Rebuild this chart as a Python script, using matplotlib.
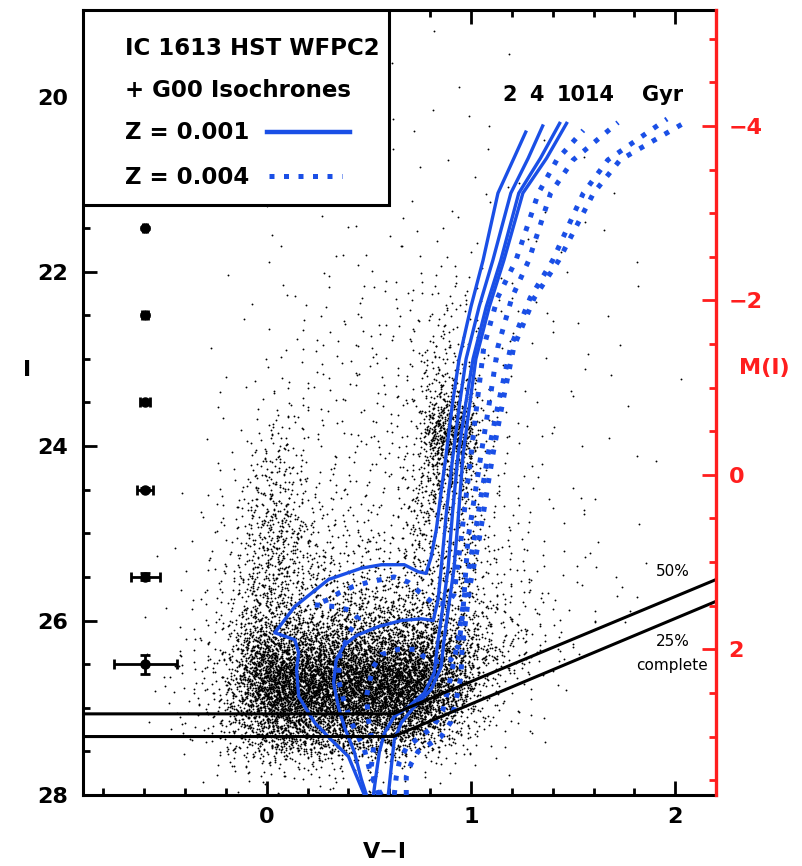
"""CMD of IC 1613 (HST WFPC2) with G00 isochrones"""

import numpy as np
import matplotlib
matplotlib.use('Agg')
import matplotlib.pyplot as plt
from matplotlib.patches import Rectangle
from matplotlib.ticker import MultipleLocator

plt.rcParams['font.family'] = ['DejaVu Sans']
plt.rcParams['font.weight'] = 'bold'
plt.rcParams['axes.labelweight'] = 'bold'

# ---- data ----
dist_mod = 24.33

# star density map: cells of 0.1 mag in V-I (from -0.9) x 0.25 mag in I (from 19.0), level 0-9
# column groups: -0.9..-0.4 | -0.3..0.0 | 0.1 | 0.2..0.6 | 0.7..0.9 | 1.0..1.3 | 1.4..1.5 | 1.6..2.1
grid_vi0, grid_dvi = -0.9, 0.1
grid_i0, grid_di = 19.0, 0.25
density_rows = [
    "000000|0000|0|00000|000|0000|00|000000",  # 19.00
    "000000|0000|0|00000|010|0000|00|000000",
    "000000|0000|0|00001|000|0100|00|000000",
    "000000|0000|0|00000|001|0000|00|000000",
    "000000|0000|0|00001|010|0000|00|000000",  # 20.00
    "000000|0000|0|00010|101|0100|00|000000",
    "000000|0000|0|00101|010|1001|00|000000",
    "000000|0000|0|01010|101|0010|01|000000",
    "000000|0000|1|01010|101|1010|00|100000",  # 21.00
    "000000|0001|0|10101|011|0101|01|000000",
    "000000|0010|1|01111|111|1101|00|100000",
    "000000|0001|0|11111|111|1110|10|001000",
    "000000|0101|1|11121|232|1110|10|000000",  # 22.00
    "000000|0011|1|11212|233|2111|01|001000",
    "000000|0101|1|12222|243|2111|10|100000",
    "000000|1011|1|22222|344|2111|01|010000",
    "000000|1012|1|22222|354|2111|01|000100",  # 23.00
    "000000|0112|2|22222|456|3111|10|100000",
    "000000|1123|3|22222|477|3211|01|010000",
    "000000|1124|3|22232|488|3211|10|100000",
    "000000|1235|3|22233|477|3211|01|010000",  # 24.00
    "000000|1245|4|33223|566|3221|11|001000",
    "000001|2255|4|33323|565|3221|11|100000",
    "000001|2356|5|43333|555|3221|11|010000",
    "000011|2356|5|44444|555|4321|11|101000",  # 25.00
    "000011|2456|5|54444|555|4332|11|110000",
    "000012|2466|5|55555|555|4332|21|111000",
    "000012|3466|6|56666|665|5432|21|110000",
    "000112|3577|7|77777|776|5443|21|110000",  # 26.00
    "000123|4588|8|88888|887|6543|21|000000",
    "000123|4689|9|99999|987|5432|10|000000",
    "000123|4689|9|99999|987|4321|10|000000",
    "000123|4678|8|88888|875|4321|00|000000",  # 27.00
    "000012|3567|7|77777|654|3211|00|000000",
    "000001|2344|4|44443|322|1100|00|000000",
    "000000|1122|2|22221|110|0000|00|000000",
]
level_counts = [0, 1, 3, 6, 12, 24, 45, 80, 150, 260]

# isochrones (V-I, I), Z = 0.001
z001_2gyr = [(0.478, 28.0), (0.40, 27.56), (0.317, 27.37), (0.234, 27.17), (0.156, 26.87),
             (0.146, 26.56), (0.156, 26.37), (0.137, 26.22), (0.039, 26.14), (0.137, 25.84),
             (0.302, 25.53), (0.463, 25.40), (0.561, 25.36), (0.673, 25.36), (0.741, 25.44),
             (0.78, 25.46), (0.805, 25.27), (0.83, 24.96), (0.855, 24.5), (0.878, 24.1),
             (0.91, 23.5), (0.942, 23.0), (1.0, 22.4), (1.059, 21.87), (1.132, 21.1),
             (1.21, 20.7), (1.268, 20.40)]
z001_4gyr = [(0.488, 28.0), (0.463, 27.82), (0.429, 27.51), (0.38, 27.22), (0.351, 26.99),
             (0.327, 26.71), (0.34, 26.45), (0.38, 26.28), (0.44, 26.17), (0.546, 26.07),
             (0.659, 26.0), (0.756, 25.98), (0.815, 26.0), (0.839, 25.76), (0.854, 25.4),
             (0.88, 24.75), (0.912, 24.1), (0.945, 23.5), (0.976, 23.0), (1.04, 22.4),
             (1.107, 21.87), (1.195, 21.1), (1.28, 20.7), (1.351, 20.33)]
z001_10gyr = [(0.522, 28.0), (0.537, 27.74), (0.551, 27.51), (0.576, 27.29), (0.624, 27.10),
              (0.693, 26.99), (0.771, 26.83), (0.82, 26.6), (0.839, 26.22), (0.865, 25.8),
              (0.888, 25.4), (0.91, 24.75), (0.937, 24.1), (0.975, 23.5), (1.01, 23.0),
              (1.075, 22.4), (1.146, 21.87), (1.234, 21.1), (1.34, 20.7), (1.434, 20.30)]
z001_14gyr = [(0.595, 28.0), (0.61, 27.67), (0.624, 27.37), (0.659, 27.17), (0.722, 26.99),
              (0.805, 26.79), (0.854, 26.53), (0.868, 26.22), (0.893, 25.8), (0.917, 25.4),
              (0.94, 24.75), (0.961, 24.1), (0.995, 23.5), (1.024, 23.0), (1.09, 22.4),
              (1.161, 21.87), (1.254, 21.1), (1.37, 20.7), (1.468, 20.30)]

# isochrones (V-I, I), Z = 0.004
z004_2gyr = [(0.561, 28.0), (0.512, 27.79), (0.478, 27.48), (0.415, 27.17), (0.376, 26.91),
             (0.351, 26.68), (0.356, 26.41), (0.38, 26.28), (0.405, 26.13), (0.449, 25.98),
             (0.405, 25.88), (0.332, 25.84), (0.234, 25.82), (0.302, 25.76), (0.356, 25.68),
             (0.424, 25.61), (0.498, 25.56), (0.624, 25.50), (0.693, 25.56), (0.746, 25.67),
             (0.815, 25.80), (0.883, 25.81), (0.917, 25.70), (0.932, 25.42), (0.951, 25.07),
             (1.0, 24.1), (1.03, 23.5), (1.063, 22.86), (1.13, 22.3), (1.22, 21.87),
             (1.33, 21.1), (1.42, 20.72), (1.55, 20.38)]
z004_4gyr = [(0.546, 28.0), (0.522, 27.79), (0.512, 27.67), (0.522, 27.48), (0.512, 27.33),
             (0.498, 27.14), (0.488, 26.87), (0.502, 26.71), (0.522, 26.53), (0.561, 26.39),
             (0.644, 26.33), (0.741, 26.33), (0.766, 26.41), (0.839, 26.47), (0.902, 26.45),
             (0.941, 26.28), (0.961, 25.88), (0.985, 25.07), (1.049, 24.1), (1.09, 23.5),
             (1.132, 22.86), (1.2, 22.3), (1.283, 21.87), (1.39, 21.1), (1.50, 20.72),
             (1.72, 20.29)]
z004_10gyr = [(0.624, 28.0), (0.634, 27.79), (0.649, 27.62), (0.683, 27.46), (0.746, 27.34),
              (0.815, 27.22), (0.863, 27.02), (0.888, 26.79), (0.912, 26.51), (0.937, 26.22),
              (0.975, 25.6), (1.015, 25.07), (1.083, 24.1), (1.135, 23.5), (1.195, 22.86),
              (1.29, 22.3), (1.40, 21.87), (1.55, 21.1), (1.67, 20.72), (1.96, 20.25)]
z004_14gyr = [(0.683, 28.0), (0.683, 27.79), (0.707, 27.64), (0.741, 27.50), (0.795, 27.42),
              (0.854, 27.33), (0.902, 27.16), (0.927, 26.91), (0.951, 26.64), (0.956, 26.33),
              (0.995, 25.6), (1.04, 25.07), (1.107, 24.1), (1.155, 23.5), (1.21, 22.86),
              (1.31, 22.3), (1.43, 21.87), (1.60, 21.1), (1.73, 20.72), (2.07, 20.26)]

# completeness limits
compl_vi = [-0.9, 0.62, 2.2]
compl_50 = [27.07, 27.07, 25.53]
compl_25 = [27.33, 27.33, 25.78]

# photometric errors
err_vi = [-0.595, -0.595, -0.595, -0.595, -0.595, -0.595]
err_i = [21.5, 22.5, 23.5, 24.5, 25.5, 26.5]
err_x = [0.01, 0.015, 0.025, 0.04, 0.07, 0.155]
err_y = [0.01, 0.01, 0.015, 0.02, 0.04, 0.11]

age_labels = ['2', '4', '1014', 'Gyr']
age_label_vi = [1.19, 1.32, 1.56, 1.94]
age_label_i = 19.98

BLUE = '#1a4fe6'
RED = '#ff1e1e'


def halton(n, base):
    """Последовательность Холтона для раскладки звезд внутри ячейки"""
    seq = np.zeros(n)
    idx = np.arange(1, n + 1)
    f = 1.0
    while np.any(idx > 0):
        f /= base
        seq += f * (idx % base)
        idx //= base
    return seq


def stars_from_density():
    """Раскладывает звезды по ячейкам карты плотности"""
    cells = []
    for r, row in enumerate(density_rows):
        for c, ch in enumerate(row.replace('|', '')):
            n = level_counts[int(ch)]
            if n:
                cells.append((r, c, n))
    total = sum(n for _, _, n in cells)
    h2, h3, h5, h7 = (halton(total, b) for b in (2, 3, 5, 7))
    vi = np.empty(total)
    mag = np.empty(total)
    k = 0
    for r, c, n in cells:
        s = slice(k, k + n)
        vi[s] = grid_vi0 + grid_dvi * (c + h2[s] + h5[s] - 0.5)
        mag[s] = grid_i0 + grid_di * (r + h3[s] + h7[s] - 0.5)
        k += n
    return vi, mag


fig = plt.figure(figsize=(8.03, 8.66), dpi=100)
ax = fig.add_axes([0.1034, 0.0820, 0.7883, 0.9065])

vi, mag = stars_from_density()
ax.scatter(vi, mag, s=1.8, c='black', marker='o', linewidths=0, zorder=1)

for iso in (z001_2gyr, z001_4gyr, z001_10gyr, z001_14gyr):
    x, y = zip(*iso)
    ax.plot(x, y, color=BLUE, lw=2.4, solid_joinstyle='round', zorder=3)
for iso in (z004_2gyr, z004_4gyr, z004_10gyr, z004_14gyr):
    x, y = zip(*iso)
    ax.plot(x, y, color=BLUE, lw=3.6, ls=(0, (1.0, 1.9)), zorder=3)

ax.plot(compl_vi, compl_50, color='black', lw=2.2, zorder=4)
ax.plot(compl_vi, compl_25, color='black', lw=2.2, zorder=4)
ax.text(1.99, 25.44, '50%', fontsize=11, fontweight='normal', ha='center', va='center')
ax.text(1.99, 26.24, '25%', fontsize=11, fontweight='normal', ha='center', va='center')
ax.text(1.985, 26.51, 'complete', fontsize=11, fontweight='normal', ha='center', va='center')

ax.errorbar(err_vi, err_i, xerr=err_x, yerr=err_y, fmt='o', color='black', ms=6.5,
            elinewidth=2, capsize=3.5, capthick=2, zorder=5)

for lab, xl in zip(age_labels, age_label_vi):
    ax.text(xl, age_label_i, lab, fontsize=15, ha='center', va='center', zorder=6)

# legend box
ax.add_patch(Rectangle((-0.9, 19.0), 1.5, 2.24, facecolor='white', edgecolor='black',
                       lw=2.2, zorder=7))
leg_x = -0.693
ax.text(leg_x, 19.44, 'IC 1613 HST WFPC2', fontsize=16.5, va='center', zorder=8)
ax.text(leg_x, 19.92, '+ G00 Isochrones', fontsize=16.5, va='center', zorder=8)
ax.text(leg_x, 20.41, 'Z = 0.001', fontsize=16.5, va='center', zorder=8)
ax.text(leg_x, 20.92, 'Z = 0.004', fontsize=16.5, va='center', zorder=8)
ax.plot([0.0, 0.405], [20.40, 20.40], color=BLUE, lw=3.2, zorder=8)
ax.plot([0.01, 0.37], [20.90, 20.90], color=BLUE, lw=3.6, ls=(0, (1.0, 1.9)), zorder=8)

ax.set_xlim(-0.9, 2.2)
ax.set_ylim(28, 19)
ax.xaxis.set_major_locator(MultipleLocator(1))
ax.xaxis.set_minor_locator(MultipleLocator(0.2))
ax.yaxis.set_major_locator(MultipleLocator(2))
ax.yaxis.set_minor_locator(MultipleLocator(0.5))
ax.tick_params(axis='x', which='both', direction='in', top=True, bottom=True,
               width=2, labelsize=16, pad=9)
ax.tick_params(axis='y', which='both', direction='in', left=True, right=False,
               width=2, labelsize=16, pad=11)
ax.tick_params(which='major', length=10)
ax.tick_params(which='minor', length=5)
for side in ('left', 'top', 'bottom'):
    ax.spines[side].set_linewidth(2.2)
ax.spines['right'].set_visible(False)

ax.set_xlabel('V−I', fontsize=16, va='center')
ax.xaxis.set_label_coords(0.477, -0.073)
ax.set_ylabel('I', fontsize=16, rotation=0, va='center', ha='center')
ax.yaxis.set_label_coords(-0.088, 0.541)

ax2 = ax.twinx()
ax2.set_ylim(28 - dist_mod, 19 - dist_mod)
ax2.yaxis.set_major_locator(MultipleLocator(2))
ax2.yaxis.set_minor_locator(MultipleLocator(0.5))
for side in ('left', 'top', 'bottom'):
    ax2.spines[side].set_visible(False)
ax2.spines['right'].set_color(RED)
ax2.spines['right'].set_linewidth(2.4)
ax2.tick_params(axis='y', which='both', direction='in', colors=RED, width=2,
                labelsize=16, pad=9)
ax2.tick_params(which='major', length=10)
ax2.tick_params(which='minor', length=5)
ax2.set_ylabel('M(I)', fontsize=16, color=RED, rotation=0, va='center', ha='center')
ax2.yaxis.set_label_coords(1.077, 0.544)

fig.savefig('out.png', dpi=100)
